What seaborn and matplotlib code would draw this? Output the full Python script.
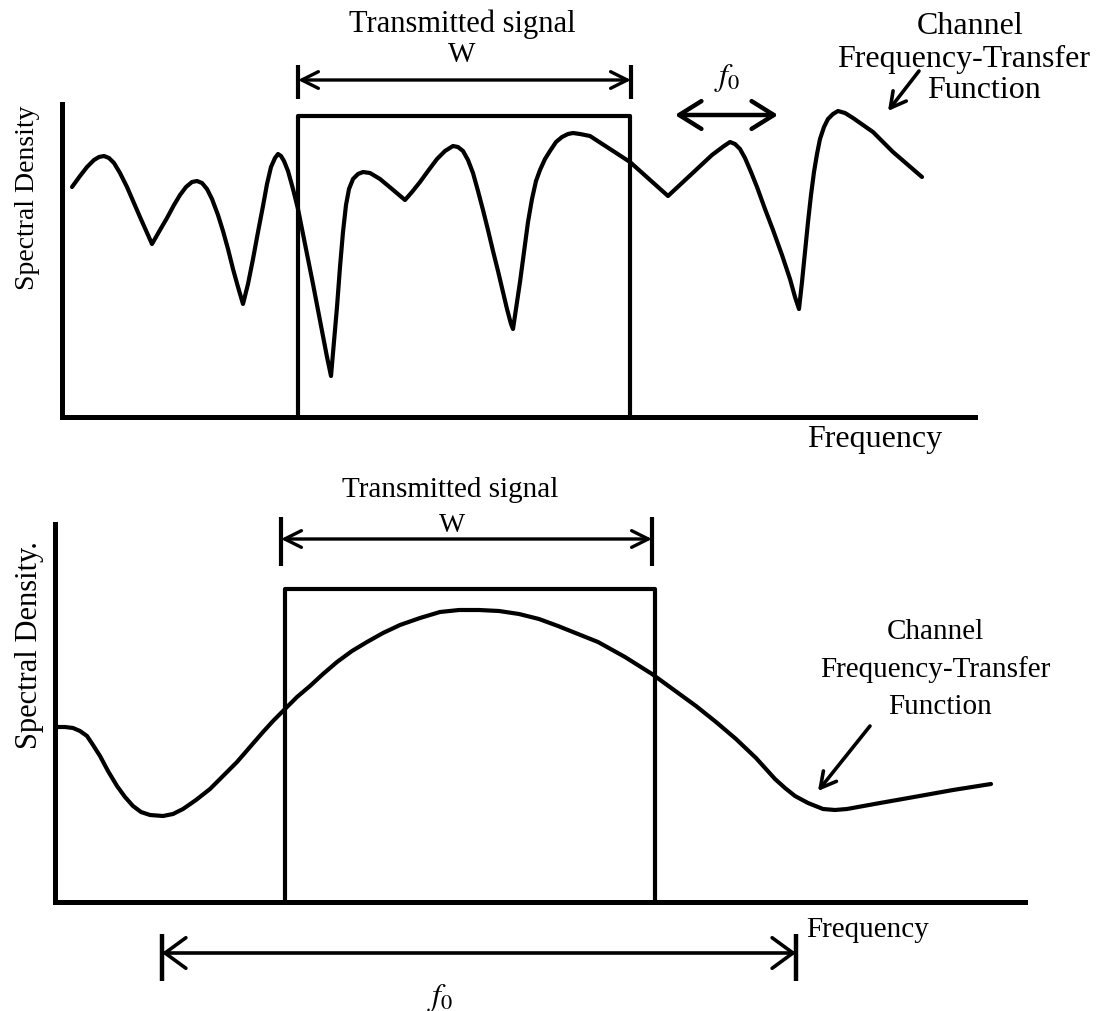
import pandas as pd
import matplotlib.pyplot as plt
import seaborn as sns

# Top panel: channel with many deep fades (arbitrary frequency / density units)
top_freq = [10, 18, 25, 32, 37, 42, 47, 52, 58, 65, 78, 90,
            98, 105, 112, 118, 124, 130, 135, 140, 145, 150, 156, 161, 166, 171, 176, 181,
            186, 191, 196, 201, 205, 209, 213, 216, 219, 222, 226, 231, 236, 241, 246, 251,
            256, 261, 265, 269,
            272, 275, 278, 281, 284, 287, 291, 296, 301, 308, 318, 330, 343,
            350, 358, 366, 375, 383, 391, 396, 401, 406, 411, 416, 421, 426, 431, 436, 441,
            445, 449, 451,
            454, 458, 462, 466, 470, 474, 478, 483, 488, 494, 500, 506, 511, 518, 528, 545,
            568, 587, 606,
            620, 635, 650, 662, 668, 673, 678, 683, 689, 695, 703, 711, 720, 728, 733, 737,
            740, 743, 746, 749, 752, 755, 758, 762, 766, 771, 776, 783, 791, 811, 831, 860]
top_density = [230, 241, 250, 257, 260, 261, 259, 254, 244, 230, 200, 173,
               187, 199, 212, 222, 230, 235, 236, 234, 228, 218, 202, 186, 168, 148, 130, 113,
               133, 158, 185, 211, 233, 250, 259, 263, 261, 256, 246, 228, 208, 183, 158, 133,
               107, 81, 60, 41,
               75, 110, 150, 185, 212, 228, 238, 243, 245, 244, 238, 228, 217,
               225, 235, 246, 258, 266, 271, 270, 266, 257, 244, 226, 207, 187, 166, 146, 125,
               108, 93, 88,
               108, 135, 165, 195, 218, 236, 247, 258, 266, 275, 280, 283, 284, 283, 281, 270,
               255, 238, 221,
               234, 248, 262, 271, 275, 273, 268, 259, 245, 230, 208, 187, 162, 138, 120, 108,
               135, 165, 195, 222, 245, 263, 278, 290, 298, 303, 306, 304, 299, 285, 265, 240]
top_signal_freq = [236, 236, 568, 568]
top_signal_level = [0, 301, 301, 0]

# Bottom panel: smooth, slowly varying channel
bottom_freq = [2, 10, 18, 25, 32, 38, 45, 53, 62, 70, 78, 86, 95, 108, 118, 128, 141, 155,
               168, 182, 195, 208, 219, 230, 242, 255, 268, 282, 297, 312, 328, 345, 365,
               385, 404, 424, 444, 464, 484, 503, 523, 543, 570, 597, 619, 641, 661, 681,
               701, 720, 730, 740, 753, 768, 780, 792, 825, 859, 898, 936]
bottom_density = [175, 175, 174, 171, 166, 157, 146, 131, 116, 105, 96, 90, 87, 86, 88, 93,
                  102, 113, 126, 140, 155, 170, 182, 193, 205, 216, 228, 240, 251, 260, 269,
                  277, 284, 290, 292, 292, 291, 288, 283, 276, 268, 260, 245, 228, 212, 196,
                  180, 163, 144, 123, 114, 106, 99, 93, 92, 93, 99, 105, 112, 118]
bottom_signal_freq = [230, 230, 600, 600]
bottom_signal_level = [0, 313, 313, 0]

sns.set_theme(style="white")
plt.rcParams['font.family'] = ['Liberation Serif', 'DejaVu Serif']
plt.rcParams['mathtext.fontset'] = 'stix'
plt.rcParams['text.color'] = 'black'

fig = plt.figure(figsize=(11.07, 10.12), dpi=100)
ax1 = fig.add_axes([62 / 1107, 1 - 418 / 1012, 913 / 1107, 313 / 1012])
ax2 = fig.add_axes([55 / 1107, 1 - 903 / 1012, 970 / 1107, 378 / 1012])


def draw_panel(ax, freq, dens, sig_f, sig_l, xmax, ymax):
    curve = pd.DataFrame({'freq': freq, 'density': dens})
    signal = pd.DataFrame({'freq': sig_f, 'level': sig_l})
    sns.lineplot(data=signal, x='freq', y='level', sort=False, estimator=None,
                 color='black', lw=3, ax=ax)
    sns.lineplot(data=curve, x='freq', y='density', sort=False, estimator=None,
                 color='black', lw=3, ax=ax, solid_joinstyle='round')
    ax.set_xlim(0, xmax)
    ax.set_ylim(0, ymax)
    ax.set_xticks([])
    ax.set_yticks([])
    ax.set_xlabel('')
    ax.set_ylabel('')
    sns.despine(ax=ax)
    for side in ['left', 'bottom']:
        ax.spines[side].set_color('black')
        ax.spines[side].set_linewidth(3.6)


def span_arrow(ax, x0, x1, y, bar_lo=None, bar_hi=None, hl=0.6, hw=0.3, lw=2.2):
    ax.annotate('', xy=(x1, y), xytext=(x0, y), annotation_clip=False,
                arrowprops=dict(arrowstyle=f'<->,head_length={hl},head_width={hw}',
                                lw=lw, color='black', shrinkA=0, shrinkB=0,
                                mutation_scale=20))
    if bar_lo is not None:
        for xb in (x0, x1):
            ax.plot([xb, xb], [bar_lo, bar_hi], color='black', lw=lw + 0.6,
                    clip_on=False, solid_capstyle='butt')


def pointer(ax, start, end):
    ax.annotate('', xy=end, xytext=start, annotation_clip=False,
                arrowprops=dict(arrowstyle='->,head_length=0.55,head_width=0.3',
                                lw=2.6, color='black', shrinkA=0, shrinkB=0,
                                mutation_scale=20))


def label_lines(ax, lines, fontsize):
    for text, x, y in lines:
        ax.text(x, y, text, ha='center', va='center', fontsize=fontsize, clip_on=False)


draw_panel(ax1, top_freq, top_density, top_signal_freq, top_signal_level, 913, 313)
draw_panel(ax2, bottom_freq, bottom_density, bottom_signal_freq, bottom_signal_level, 970, 378)

# --- top panel annotations ---
ax1.text(400, 394, 'Transmitted signal', ha='center', va='center', fontsize=22, clip_on=False)
ax1.text(400, 363, 'W', ha='center', va='center', fontsize=21, clip_on=False)
span_arrow(ax1, 236, 569, 337, 318, 352, hl=0.6, hw=0.3, lw=2.4)
span_arrow(ax1, 613, 716, 302, hl=0.8, hw=0.5, lw=3.2)
ax1.text(665, 340, '$f_0$', ha='center', va='center', fontsize=23, clip_on=False)
label_lines(ax1, [('Channel', 908, 391),
                  ('Frequency-Transfer', 902, 359),
                  ('Function', 922, 328)], 23)
pointer(ax1, (857, 346), (826, 306))
ax1.text(813, -22, 'Frequency', ha='center', va='center', fontsize=23, clip_on=False)
ax1.text(-34, 220, 'Spectral Density', ha='center', va='center', rotation=90,
         fontsize=20, clip_on=False)

# --- bottom panel annotations ---
ax2.text(395, 413, 'Transmitted signal', ha='center', va='center', fontsize=21, clip_on=False)
ax2.text(397, 377, 'W', ha='center', va='center', fontsize=20, clip_on=False)
span_arrow(ax2, 226, 597, 363, 336, 385, hl=0.6, hw=0.3, lw=2.4)
span_arrow(ax2, 107, 741, -51, -79, -32, hl=0.75, hw=0.55, lw=2.6)
ax2.text(385, -95, '$f_0$', ha='center', va='center', fontsize=23, clip_on=False)
label_lines(ax2, [('Channel', 880, 271),
                  ('Frequency-Transfer', 880, 233),
                  ('Function', 885, 196)], 21)
pointer(ax2, (815, 176), (763, 111))
ax2.text(813, -27, 'Frequency', ha='center', va='center', fontsize=21, clip_on=False)
ax2.text(-25, 258, 'Spectral Density.', ha='center', va='center', rotation=90,
         fontsize=22, clip_on=False)

fig.savefig('out.png', dpi=100, facecolor='white')
